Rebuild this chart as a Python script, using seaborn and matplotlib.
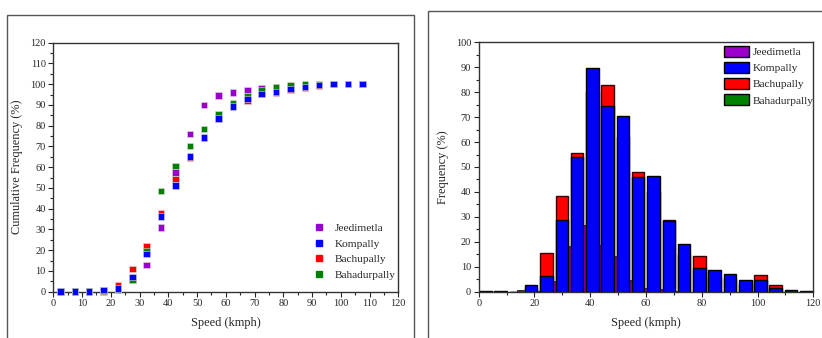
import numpy as np
import pandas as pd
import matplotlib
matplotlib.use("Agg")
import matplotlib.pyplot as plt
from matplotlib.lines import Line2D
from matplotlib.patches import Patch, Rectangle
from matplotlib.ticker import MultipleLocator
import seaborn as sns

sns.set_style("ticks")
plt.rcParams["font.family"] = ["Liberation Serif", "DejaVu Serif"]
plt.rcParams["axes.linewidth"] = 1.0

# ---- cumulative speed distribution (class mid-points, kmph) ----
speed_class = [2.5, 7.5, 12.5, 17.5, 22.5, 27.5, 32.5, 37.5, 42.5, 47.5, 52.5,
               57.5, 62.5, 67.5, 72.5, 77.5, 82.5, 87.5, 92.5, 97.5, 102.5, 107.5]
cum_jeedimetla = [0, 0, 0, 0.3, 1.0, 6.0, 12.9, 31.0, 57.4, 75.9, 90.0,
                  94.5, 95.9, 97.1, 97.9, 98.5, 98.8, 99.0, 99.7, 100, 100, 100]
cum_kompally = [0, 0, 0, 0.8, 1.6, 7.2, 18.2, 36.2, 51.1, 65.1, 74.2,
                83.4, 89.2, 92.9, 95.2, 96.3, 97.6, 98.7, 99.6, 100, 100, 100]
cum_bachupally = [0, 0, 0, 0, 3.2, 10.9, 22.0, 37.8, 54.2, 64.5, 74.0,
                  83.5, 89.5, 92.0, 95.3, 95.8, 97.1, 98.1, 99.4, 100, 100, 100]
cum_bahadurpally = [0, 0, 0, 0.5, 1.0, 5.6, 19.3, 48.5, 60.6, 70.1, 78.4,
                    85.5, 90.6, 94.1, 97.3, 98.5, 99.5, 100, 100, 100, 100, 100]

# ---- frequency distribution ----
bar_speed = [2.4, 7.9, 13.4, 18.8, 24.3, 29.8, 35.3, 40.8, 46.2, 51.7, 57.2,
             62.7, 68.2, 73.6, 79.1, 84.6, 90.1, 95.6, 101.0, 106.5, 112.0, 117.5]
freq_kompally = [0.2, 0.2, 0, 2.6, 6.1, 28.8, 54.0, 89.6, 74.6, 70.6, 45.9,
                 46.2, 28.2, 19.2, 9.7, 8.7, 7.1, 4.6, 4.6, 1.4, 0.5, 0.2]
freq_bachupally = [0, 0, 0, 1.5, 15.4, 38.4, 55.6, 80.0, 82.8, 62.0, 47.9,
                   40.0, 28.8, 15.0, 14.2, 6.0, 5.0, 3.0, 6.8, 2.6, 0.3, 0]
freq_jeedimetla = [0, 0, 0.8, 0.3, 4.1, 18.4, 26.6, 18.8, 14.3, 4.8, 1.6,
                   1.1, 0.3, 0, 0, 0, 0, 0, 0, 0, 0, 0]

sites = ["Jeedimetla", "Kompally", "Bachupally", "Bahadurpally"]
colors = {"Jeedimetla": "#9900CC", "Kompally": "#0000FF",
          "Bachupally": "#FF0000", "Bahadurpally": "#008000"}

fig = plt.figure(figsize=(8.22, 3.38), dpi=100)

# panel frames
for x0, y0, w, h in [(7 / 822, -0.05, 407 / 822, 1.05 - 14.5 / 338),
                     (427.5 / 822, -0.05, 400 / 822, 1.05 - 11.5 / 338)]:
    fig.patches.append(Rectangle((x0, y0), w, h, transform=fig.transFigure,
                                 fill=False, edgecolor="#555555", linewidth=1.0))

ax1 = fig.add_axes([53.3 / 822, 46.3 / 338, 345 / 822, 249 / 338])
ax2 = fig.add_axes([478.7 / 822, 46.3 / 338, 334.6 / 822, 249.4 / 338])

label_fs = 8.9
legend_fs = 8.2

# ---- left: cumulative frequency scatter ----
draw_order = ["Jeedimetla", "Bachupally", "Bahadurpally", "Kompally"]
cum = {"Jeedimetla": cum_jeedimetla, "Kompally": cum_kompally,
       "Bachupally": cum_bachupally, "Bahadurpally": cum_bahadurpally}
long = pd.concat([pd.DataFrame({"speed": speed_class, "cum": cum[s], "site": s})
                  for s in draw_order], ignore_index=True)
sns.scatterplot(data=long, x="speed", y="cum", hue="site", palette=colors,
                marker="s", s=22, linewidth=0.4, edgecolor="#dddddd",
                legend=False, ax=ax1, zorder=3, clip_on=False)
ax1.set_xlim(0, 120)
ax1.set_ylim(0, 120)
ax1.xaxis.set_major_locator(MultipleLocator(10))
ax1.xaxis.set_minor_locator(MultipleLocator(5))
ax1.yaxis.set_major_locator(MultipleLocator(10))
ax1.yaxis.set_minor_locator(MultipleLocator(5))
ax1.set_xlabel("Speed (kmph)", fontsize=label_fs, labelpad=6)
ax1.set_ylabel("Cumulative Frequency (%)", fontsize=label_fs, labelpad=5)
handles1 = [Line2D([], [], marker="s", linestyle="none", markersize=5,
                   markerfacecolor=colors[s], markeredgecolor=colors[s], label=s)
            for s in sites]
ax1.legend(handles=handles1, loc="upper left", bbox_to_anchor=(0.755, 0.276),
           frameon=False, fontsize=legend_fs, handletextpad=0.87,
           labelspacing=0.49, handlelength=1.0, borderpad=0, borderaxespad=0)

# ---- right: frequency bars ----
bar_w = 0.83
jeed_x = np.array(bar_speed) + 2.74
sns.barplot(x=jeed_x, y=freq_jeedimetla, native_scale=True, width=bar_w,
            color=colors["Jeedimetla"], saturation=1, edgecolor="#333333",
            linewidth=0.7, errorbar=None, ax=ax2)
sns.barplot(x=bar_speed, y=freq_bachupally, native_scale=True, width=bar_w,
            color=colors["Bachupally"], saturation=1, edgecolor="#3a0000",
            linewidth=1.0, errorbar=None, ax=ax2)
sns.barplot(x=bar_speed, y=freq_kompally, native_scale=True, width=bar_w,
            color=colors["Kompally"], saturation=1, edgecolor="black",
            linewidth=1.0, errorbar=None, ax=ax2)
ax2.set_xlim(0, 120)
ax2.set_ylim(0, 100)
ax2.xaxis.set_major_locator(MultipleLocator(20))
ax2.xaxis.set_minor_locator(MultipleLocator(10))
ax2.yaxis.set_major_locator(MultipleLocator(10))
ax2.yaxis.set_minor_locator(MultipleLocator(5))
ax2.set_xlabel("Speed (kmph)", fontsize=label_fs, labelpad=6)
ax2.set_ylabel("Frequency (%)", fontsize=label_fs, labelpad=5)
handles2 = [Patch(facecolor=colors[s], edgecolor="black", linewidth=1.0, label=s)
            for s in sites]
ax2.legend(handles=handles2, loc="upper left", bbox_to_anchor=(0.733, 0.986),
           frameon=False, fontsize=legend_fs, handlelength=2.17,
           handleheight=1.11, handletextpad=0.35, labelspacing=0.42,
           borderpad=0, borderaxespad=0)

for ax in (ax1, ax2):
    ax.tick_params(which="major", direction="out", length=3.5, width=0.8,
                   labelsize=7.5, pad=2)
    ax.tick_params(which="minor", direction="out", length=2, width=0.8)
    for sp in ax.spines.values():
        sp.set_visible(True)
        sp.set_color("#333333")
    ax.set_facecolor("white")

fig.savefig("out.png", dpi=100, facecolor="white")
